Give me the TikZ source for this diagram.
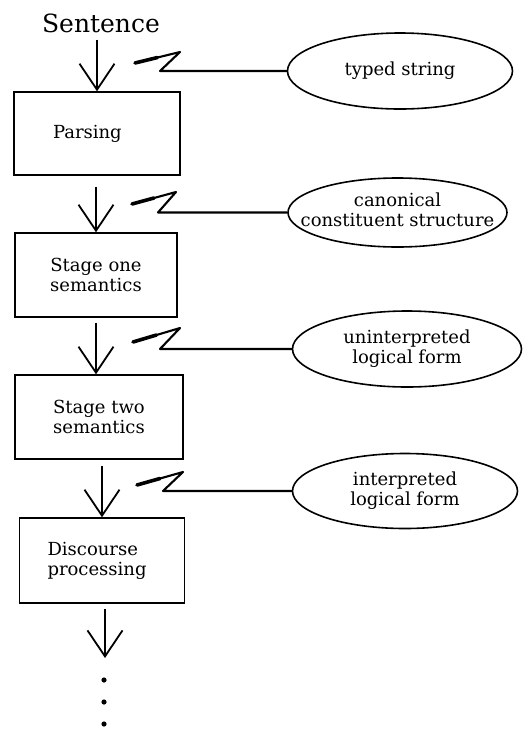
\documentclass[tikz,border=0pt]{standalone}
\usepackage{fontspec}
\setmainfont{DejaVu Serif}
\usetikzlibrary{arrows.meta,shapes.geometric,calc}
\newcommand\elltext[1]{\makebox[0pt]{\begin{tabular}{@{}c@{}}#1\end{tabular}}}
\begin{document}
\begin{tikzpicture}[x=1pt,y=-1pt,
  stagebox/.style={draw,line width=1.4pt,rectangle,inner sep=0pt,font=\fontsize{18}{20}\selectfont},
  dataell/.style={draw,line width=1.6pt,ellipse,inner sep=0pt,font=\fontsize{18}{20}\selectfont},
  flow/.style={line width=1.8pt,-{Straight Barb[length=26pt,width=35pt]}},
  zig/.style={line width=2.1pt,line join=round,line cap=round},
  tailstroke/.style={line width=3.6pt,line cap=round}
]
\useasboundingbox (0,0) rectangle (525,729);

% title
\node[anchor=base,inner sep=0pt,font=\fontsize{25}{30}\selectfont] (sent) at (101,32) {Sentence};

% stage boxes
\node[stagebox,minimum width=166pt,minimum height=83pt,text width=88pt,align=left] (b1) at (97,133.5) {Parsing};
\node[stagebox,minimum width=162pt,minimum height=84pt,align=center] (b2) at (96,275) {Stage one\\semantics};
\node[stagebox,minimum width=168pt,minimum height=84pt,align=center] (b3) at (99,417) {Stage two\\semantics};
\node[stagebox,minimum width=165pt,minimum height=85pt,text width=109pt,align=left] (b4) at (102,560.5) {Discourse\\processing};

% data ellipses
\node[dataell,minimum width=225pt,minimum height=76pt] (e1) at (400,71) {\elltext{typed string}};
\node[dataell,minimum width=219pt,minimum height=69pt] (e2) at (397.5,212.5) {\elltext{canonical\\constituent structure}};
\node[dataell,minimum width=229pt,minimum height=76pt] (e3) at (407,349) {\elltext{uninterpreted\\logical form}};
\node[dataell,minimum width=225pt,minimum height=75pt] (e4) at (405,491) {\elltext{interpreted\\logical form}};

% flow arrows
\coordinate (e5) at (105,658);
\draw[flow,shorten <=7pt] (sent.south -| b1.north) -- (b1.north);
\draw[flow,shorten <=11pt] (b1.south -| b2.north) -- (b2.north);
\draw[flow,shorten <=5pt] (b2.south) -- (b2.south |- b3.north);
\draw[flow,shorten <=6pt] (b3.south -| b4.north) -- (b4.north);
\draw[flow,shorten <=5pt] (b4.south -| e5) -- (e5);

% continuation dots
\fill (104,680) circle[radius=2.6pt];
\fill (104,702) circle[radius=2.6pt];
\fill (104,724) circle[radius=2.6pt];

% zigzag connectors
\coordinate (z1a) at (160,72);  \coordinate (z1b) at (180,52);  \coordinate (z1c) at (135,63);
\coordinate (z2a) at (158,212); \coordinate (z2b) at (176,192); \coordinate (z2c) at (132,204);
\coordinate (z3a) at (160,348); \coordinate (z3b) at (180,328); \coordinate (z3c) at (133,342);
\coordinate (z4a) at (163,493); \coordinate (z4b) at (183,472); \coordinate (z4c) at (137,485);
\draw[zig] (e1.west) -- (z1a |- e1.west) -- (z1b) -- (z1c);
\draw[zig] (e2.west) -- (z2a |- e2.west) -- (z2b) -- (z2c);
\draw[zig] (e3.west) -- (z3a |- e3.west) -- (z3b) -- (z3c);
\draw[zig] (e4.west) -- (z4a |- e4.west) -- (z4b) -- (z4c);
\draw[tailstroke] (z1c) -- ($(z1c)!0.5!(z1b)$);
\draw[tailstroke] (z2c) -- ($(z2c)!0.5!(z2b)$);
\draw[tailstroke] (z3c) -- ($(z3c)!0.5!(z3b)$);
\draw[tailstroke] (z4c) -- ($(z4c)!0.5!(z4b)$);
\end{tikzpicture}
\end{document}
